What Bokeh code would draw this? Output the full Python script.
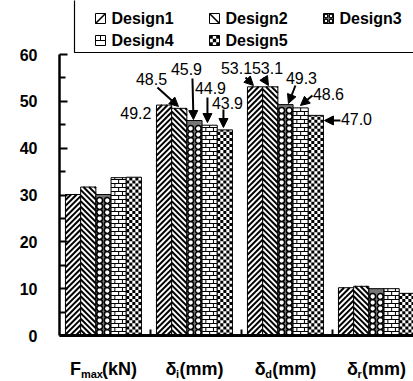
import numpy as np
from bokeh.plotting import figure
from bokeh.models import Range1d, FixedTicker, Label, Arrow, NormalHead
from bokeh.core.properties import value
from bokeh.embed import file_html
from bokeh.resources import INLINE

# ---------------- data ----------------
categories = ["Fmax(kN)", "δi(mm)", "δd(mm)", "δr(mm)"]
label_main = ["F", "δ", "δ", "δ"]
label_sub = ["max", "i", "d", "r"]
label_unit = ["(kN)", "(mm)", "(mm)", "(mm)"]
designs = ["Design1", "Design2", "Design3", "Design4", "Design5"]
design1 = [30.1, 49.2, 53.1, 10.2]
design2 = [31.7, 48.5, 53.1, 10.5]
design3 = [30.1, 45.9, 49.3, 10.0]
design4 = [33.7, 44.9, 48.6, 10.0]
design5 = [33.8, 43.9, 47.0, 9.0]
series = [design1, design2, design3, design4, design5]
y_ticks = [0, 10, 20, 30, 40, 50, 60]
y_minor_ticks = [5, 15, 25, 35, 45, 55]
x_boundaries = [1, 2, 3]
annotated_groups = [1, 2]

# ---------------- layout constants (pixels) ----------------
W, H = 413, 381
AX_X, AX_Y = 59, 335          # page pixel of x=0 / y=0
PX_X = 1 / 91                 # data units per pixel
PX_Y = 60 / 281
X0 = -AX_X * PX_X
X1 = (W - AX_X) * PX_X
Y1 = AX_Y * PX_Y
Y0 = Y1 - H * PX_Y
BAR_W = 0.167
GROUP_C = 0.483
FONT = "Liberation Sans"


def X(px):
    return X0 + px * PX_X


def Y(py):
    return Y1 - py * PX_Y


p = figure(width=W, height=H, x_range=Range1d(X0, X1), y_range=Range1d(Y0, Y1),
           output_backend="svg", toolbar_location=None, min_border=0)
p.outline_line_color = None
p.xgrid.visible = False
p.ygrid.visible = False

ya = p.yaxis[0]
ya.fixed_location = 0
ya.bounds = (0, 60)
ya.ticker = FixedTicker(ticks=y_ticks, minor_ticks=y_minor_ticks)
ya.major_tick_in = 8
ya.major_tick_out = 0
ya.minor_tick_in = 6
ya.minor_tick_out = 0
ya.axis_line_width = 2.5
ya.major_tick_line_width = 2
ya.minor_tick_line_width = 2
ya.major_label_standoff = 22
ya.major_label_text_font = FONT
ya.major_label_text_font_style = "bold"
ya.major_label_text_font_size = "16px"
ya.major_label_text_color = "black"

xa = p.xaxis[0]
xa.fixed_location = 0
xa.bounds = (0, X1)
xa.ticker = FixedTicker(ticks=x_boundaries, minor_ticks=[])
xa.major_label_overrides = {b: "" for b in x_boundaries}
xa.major_tick_in = 6
xa.major_tick_out = 0
xa.major_tick_line_width = 2
xa.axis_line_width = 3


# ---------------- pattern generators (w, h in px; L, B in data) ----------------
def diag(out, L, B, w, h, P, forward):
    if forward:
        for c in np.arange(-h, w, P):
            v0, v1 = max(0.0, -c), min(h, w - c)
            if v1 - v0 > 0.3:
                out.append((L + (v0 + c) * PX_X, B + v0 * PX_Y, L + (v1 + c) * PX_X, B + v1 * PX_Y))
    else:
        for c in np.arange(P, w + h, P):
            v0, v1 = max(0.0, c - w), min(h, c)
            if v1 - v0 > 0.3:
                out.append((L + (c - v0) * PX_X, B + v0 * PX_Y, L + (c - v1) * PX_X, B + v1 * PX_Y))


def rings(out, L, B, w, h, sx, sy):
    for v in np.arange(sy / 2, h - sy / 2 + 0.6, sy):
        for u in np.arange(sx / 2, w, sx):
            out.append((L + u * PX_X, B + v * PX_Y))


def bricks(out, L, B, w, h, rh, bw):
    r = 0
    while r * rh < h:
        v0, v1 = r * rh, min(h, (r + 1) * rh)
        if r > 0:
            out.append((L, B + v0 * PX_Y, L + w * PX_X, B + v0 * PX_Y))
        for u in np.arange((r % 2) * bw / 2, w, bw):
            if 0.5 < u < w - 0.5:
                out.append((L + u * PX_X, B + v0 * PX_Y, L + u * PX_X, B + v1 * PX_Y))
        r += 1


def checker(out, L, B, w, h, s):
    nc = int(round(w / s))
    j = 0
    while j * s < h - 0.2:
        for i in range(nc):
            if (i + j) % 2 == 0:
                out.append((L + i * s * PX_X, L + (i + 1) * s * PX_X,
                            B + j * s * PX_Y, B + min(h, (j + 1) * s) * PX_Y))
        j += 1


def draw_patterns(k, lefts, bottoms, ws, hs, small=False):
    if k in (0, 1):
        segs = []
        for L, B, w, h in zip(lefts, bottoms, ws, hs):
            diag(segs, L, B, w, h, 10 if small else 5.6, k == 0)
        a = np.array(segs)
        p.segment(x0=a[:, 0], y0=a[:, 1], x1=a[:, 2], y1=a[:, 3],
                  line_color="black", line_width=1.6 if small else 2.0)
    elif k == 2:
        pts = []
        for L, B, w, h in zip(lefts, bottoms, ws, hs):
            rings(pts, L, B, w, h, (5 if small else w / 2), (5 if small else 6.0))
        a = np.array(pts)
        p.scatter(x=a[:, 0], y=a[:, 1], marker="circle", size=3.6 if small else 5.8,
                  fill_color="white", line_color="black", line_width=1.2 if small else 1.5)
    elif k == 3:
        segs = []
        for L, B, w, h in zip(lefts, bottoms, ws, hs):
            bricks(segs, L, B, w, h, 5 if small else 4.0, 10 if small else w / 2)
        a = np.array(segs)
        p.segment(x0=a[:, 0], y0=a[:, 1], x1=a[:, 2], y1=a[:, 3],
                  line_color="black", line_width=1)
    else:
        qs = []
        for L, B, w, h in zip(lefts, bottoms, ws, hs):
            checker(qs, L, B, w, h, (10 / 3) if small else w / 5)
        a = np.array(qs)
        p.quad(left=a[:, 0], right=a[:, 1], bottom=a[:, 2], top=a[:, 3],
               fill_color="black", line_color=None)


fills = ["white", "white", "#767676", "white", "white"]

# ---------------- bars ----------------
base = np.arange(len(categories)) + GROUP_C
w_px = BAR_W / PX_X
for k, vals in enumerate(series):
    xs = base + (k - 2) * BAR_W
    p.vbar(x=xs, top=vals, bottom=0, width=BAR_W, fill_color=fills[k], line_color=None)
    draw_patterns(k, xs - BAR_W / 2, [0] * len(vals), [w_px] * len(vals),
                  [v / PX_Y for v in vals])
    p.vbar(x=xs, top=vals, bottom=0, width=BAR_W, fill_alpha=0,
           line_color="black", line_width=1)

# ---------------- legend (drawn) ----------------
leg_col_px = [95, 209, 323]
leg_row_px = [18, 40]
SW = 10
p.quad(left=[X(74)], right=[X(W + 20)], top=[Y(-20)], bottom=[Y(52)],
       fill_color=None, line_color="black", line_width=1.2)
lx, ly = [], []
for k, name in enumerate(designs):
    cx = leg_col_px[k % 3]
    cy = leg_row_px[k // 3]
    L, B = X(cx), Y(cy + SW / 2)
    p.quad(left=[L], right=[L + SW * PX_X], bottom=[B], top=[B + SW * PX_Y],
           fill_color=fills[k], line_color=None)
    draw_patterns(k, [L], [B], [SW], [SW], small=True)
    p.quad(left=[L], right=[L + SW * PX_X], bottom=[B], top=[B + SW * PX_Y],
           fill_alpha=0, line_color="black", line_width=1)
    lx.append(X(cx + SW + 6))
    ly.append(Y(cy))
p.text(x=lx, y=ly, text=designs, text_font=value(FONT), text_font_style="bold",
       text_font_size="16px", text_color="black", text_align="left", text_baseline="middle")

# ---------------- value annotations ----------------
# (text dx, text dy, start dx, start dy, end dx, end dy) in px, relative to bar centre/top
ann_offsets = {
    1: [(-12.6, 8.4, None, None, None, None),
        (-27.8, -28.9, -21.8, -20.9, -0.8, -1.9),
        (-8, -52, -2, -42, -1, -1),
        (0.8, -37.7, -2.2, -27.7, -2.2, -2.7),
        (2.6, -27.4, -1.4, -20.4, -1.4, -2.4)],
    2: [(-18.6, -19.3, -9.6, -9.3, -1.6, -1.3),
        (-2.8, -19.3, -6.8, -9.3, -1.8, -1.3),
        (16, -27.1, 10, -19.1, 3, -1.1),
        (27.8, -13.4, 11.8, -12.4, -0.2, -2.4),
        (40.6, 4.1, 24.6, 5.1, 8.6, 5.1)],
}
for g in annotated_groups:
    for k in range(len(designs)):
        v = series[k][g]
        cx = base[g] + (k - 2) * BAR_W
        tdx, tdy, sdx, sdy, edx, edy = ann_offsets[g][k]
        align = "right" if sdx is None else "center"
        p.add_layout(Label(x=cx + tdx * PX_X, y=v - tdy * PX_Y, text=f"{v:.1f}",
                           text_align=align, text_baseline="middle",
                           text_font=FONT, text_font_size="16px", text_color="black"))
        if sdx is not None:
            p.add_layout(Arrow(x_start=cx + sdx * PX_X, y_start=v - sdy * PX_Y,
                               x_end=cx + edx * PX_X, y_end=v - edy * PX_Y,
                               line_width=2, line_color="black",
                               end=NormalHead(size=9, fill_color="black", line_color="black")))

# ---------------- category labels with subscripts ----------------
main_w = [11, 10.5, 10.5, 10.5]
sub_w = [21, 3.5, 7, 4.5]
unit_w = [35, 44, 44, 44]
y_main = Y(368)
y_sub = Y(373.5)
for i in range(len(categories)):
    total = main_w[i] + sub_w[i] + unit_w[i]
    left = base[i] - total / 2 * PX_X
    common = dict(text_font=FONT, text_font_style="bold", text_color="black",
                  text_align="left", text_baseline="middle")
    p.add_layout(Label(x=left, y=y_main, text=label_main[i], text_font_size="18px", **common))
    p.add_layout(Label(x=left + main_w[i] * PX_X, y=y_sub, text=label_sub[i],
                       text_font_size="11px", **common))
    p.add_layout(Label(x=left + (main_w[i] + sub_w[i]) * PX_X, y=y_main, text=label_unit[i],
                       text_font_size="18px", **common))

open("out.html", "w").write(file_html(p, INLINE))
